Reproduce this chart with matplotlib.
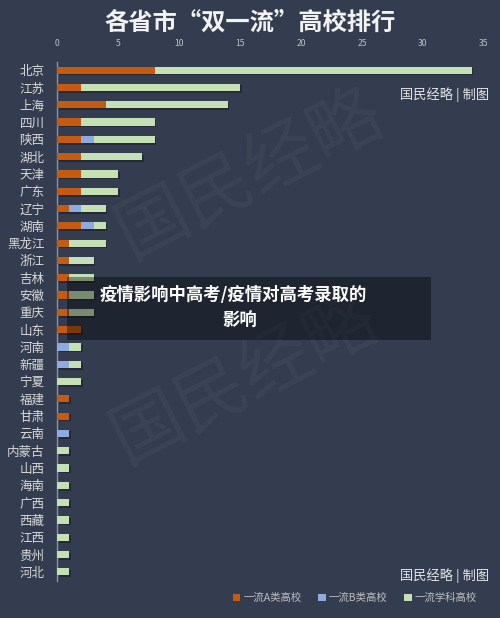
import matplotlib.pyplot as plt
import matplotlib.patheffects as pe
from matplotlib.patches import Rectangle, Patch

plt.rcParams['font.family'] = ['Noto Sans CJK SC', 'DejaVu Sans']

# data (number of universities)
provinces = ['北京', '江苏', '上海', '四川', '陕西', '湖北', '天津', '广东', '辽宁', '湖南',
             '黑龙江', '浙江', '吉林', '安徽', '重庆', '山东', '河南', '新疆', '宁夏', '福建',
             '甘肃', '云南', '内蒙古', '山西', '海南', '广西', '西藏', '江西', '贵州', '河北']
class_a = [8, 2, 4, 2, 2, 2, 2, 2, 1, 2, 1, 1, 1, 1, 1, 2, 0, 0, 0, 1, 1, 0, 0, 0, 0, 0, 0, 0, 0, 0]
class_b = [0, 0, 0, 0, 1, 0, 0, 0, 1, 1, 0, 0, 0, 0, 0, 0, 1, 1, 0, 0, 0, 1, 0, 0, 0, 0, 0, 0, 0, 0]
discipline = [26, 13, 10, 6, 5, 5, 3, 3, 2, 1, 3, 2, 2, 2, 2, 0, 1, 1, 2, 0, 0, 0, 1, 1, 1, 1, 1, 1, 1, 1]
x_ticks = [0, 5, 10, 15, 20, 25, 30, 35]
series_names = ['一流A类高校', '一流B类高校', '一流学科高校']

bg = '#333d4f'
col_a = '#c55a11'
col_b = '#8faadc'
col_s = '#c5e0b4'

fig = plt.figure(figsize=(5, 6.18), dpi=100, facecolor=bg)

# faint watermark
for cx, cy in [(250, 175), (245, 380)]:
    fig.text(cx / 500, 1 - cy / 618, '国民经略', fontsize=52, color='white', alpha=0.035,
             rotation=27, ha='center', va='center', fontweight='normal')

ax = fig.add_axes([57 / 500, 1 - 580.5 / 618, 427 / 500, 519 / 618])
ax.set_facecolor('none')

ypos = list(range(len(provinces)))
left_b = [a for a in class_a]
left_s = [a + b for a, b in zip(class_a, class_b)]
shadow = [pe.SimplePatchShadow(offset=(1.2, -1.2), shadow_rgbFace='#1a1f28', alpha=0.6), pe.Normal()]
h = 0.42
ax.barh(ypos, class_a, height=h, color=col_a, path_effects=shadow, zorder=3)
ax.barh(ypos, class_b, left=left_b, height=h, color=col_b, path_effects=shadow, zorder=3)
ax.barh(ypos, discipline, left=left_s, height=h, color=col_s, path_effects=shadow, zorder=3)

ax.set_xlim(0, 35)
ax.set_ylim(len(provinces) - 0.5, -0.5)
ax.set_xticks(x_ticks)
ax.xaxis.tick_top()
ax.tick_params(axis='x', length=0, labelsize=6.2, labelcolor='#bfbfbf', pad=10)
ax.set_yticks(ypos)
ax.set_yticklabels(provinces)
ax.tick_params(axis='y', length=0, labelsize=9, labelcolor='#d9d9d9', pad=9)
for s in ['top', 'right', 'bottom']:
    ax.spines[s].set_visible(False)
ax.spines['left'].set_color('#8a93a3')
ax.spines['left'].set_linewidth(1)

# title
fig.text(0.5, 1 - 23 / 618, '各省市“双一流”高校排行', fontsize=17.5, color='#f2f2f2',
         ha='center', va='center', fontweight='semibold')

# credits
for cy in [95, 576]:
    fig.text(489 / 500, 1 - cy / 618, '国民经略 | 制图', fontsize=9.5, color='#e6e6e6',
             ha='right', va='center', fontweight='medium')

# overlay caption box (semi-transparent)
fig.patches.append(Rectangle((67 / 500, 1 - 340 / 618), 364 / 500, 63 / 618,
                             transform=fig.transFigure, facecolor='black', alpha=0.38,
                             edgecolor='none', zorder=5))
fig.text(233 / 500, 1 - 295 / 618, '疫情影响中高考/疫情对高考录取的', fontsize=12.5,
         color='white', ha='center', va='center', fontweight='bold', zorder=6)
fig.text(240 / 500, 1 - 321 / 618, '影响', fontsize=12.5,
         color='white', ha='center', va='center', fontweight='bold', zorder=6)

# legend
handles = [Patch(facecolor=c, edgecolor='none') for c in [col_a, col_b, col_s]]
fig.legend(handles, series_names, loc='center', bbox_to_anchor=(355 / 500, 1 - 598 / 618),
           ncol=3, frameon=False, fontsize=7.5, labelcolor='#bfbfbf', handlelength=0.7,
           handleheight=0.7, handletextpad=0.3, columnspacing=1.6)

plt.savefig('out.png', dpi=100, facecolor=bg)
